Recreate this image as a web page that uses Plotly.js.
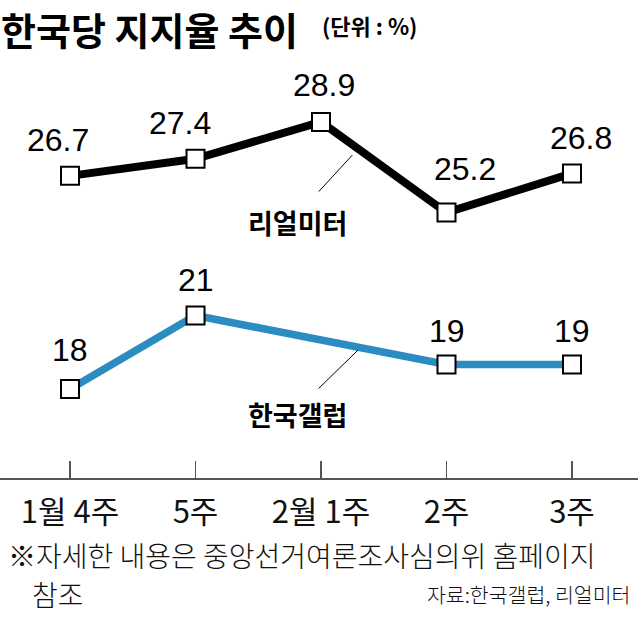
<!DOCTYPE html>
<html>
<head>
<meta charset="utf-8">
<script src="https://cdn.plot.ly/plotly-3.0.1.min.js"></script>
<style>
  html, body { margin:0; padding:0; background:#fff; }
  #plot { width:638px; height:617px; }
</style>
</head>
<body>
<div id="plot"></div>
<script>
// 주차별 지지율 (단위 %)
const weeks = ['1월 4주', '5주', '2월 1주', '2주', '3주'];
const realmeter = [26.7, 27.4, 28.9, 25.2, 26.8];
const gallup = [18, 21, null, 19, 19];

(function(){
  if (typeof Plotly === 'undefined') {
    document.getElementById('plot').innerHTML = '<p style="padding:16px;color:#c00">Plotly 로드 실패</p>';
    return;
  }

  const KR = '"Noto Sans CJK KR", "Noto Sans", sans-serif';
  const NUM = '"Liberation Sans Narrow", "Arial Narrow", "Liberation Sans", Arial, sans-serif';
  const BLUE = '#2b8cc0';
  const idx = weeks.map((_, i) => i);

  // plot area: top 60px, bottom 478px
  const top = 60, bottom = 478, H = bottom - top;
  const py = p => (bottom - p) / H;

  const marker = { symbol:'square', size:18, color:'#fff', line:{ color:'#000', width:2 } };

  const data = [
    { x:idx, y:realmeter, mode:'lines+markers', type:'scatter',
      line:{ color:'#000', width:8 }, marker:marker, hoverinfo:'skip' },
    { x:idx, y:gallup, mode:'lines+markers', type:'scatter', connectgaps:true,
      line:{ color:BLUE, width:7.5 }, marker:marker, hoverinfo:'skip' }
  ];

  // 값 라벨 위치 보정(px)
  const rmShift = [-12, -16, 3, 18, 9];
  const rmLift = [36, 36, 37, 44, 35];
  const glShift = [0, 0, 0, 0, 0];
  const glLift = [39, 36, 36, 34, 34];

  const ann = [];
  realmeter.forEach((v, i) => {
    ann.push({ x:i, y:v, text:String(v), showarrow:false, xshift:rmShift[i], yshift:rmLift[i],
      font:{ family:NUM, size:32, color:'#000' } });
  });
  gallup.forEach((v, i) => {
    if (v === null) return;
    ann.push({ x:i, y:v, text:String(v), showarrow:false, xshift:glShift[i], yshift:glLift[i],
      font:{ family:NUM, size:32, color:'#000' } });
  });

  // 시리즈 이름 + 지시선
  ann.push({ x:1.81, y:24.78, text:'리얼미터', showarrow:false,
    font:{ family:KR, size:27, color:'#000', weight:700 } });
  ann.push({ x:2.25, y:27.55, text:'', showarrow:true, arrowhead:0, arrowwidth:1, arrowcolor:'#000',
    ax:-35, ay:38 });
  ann.push({ x:1.81, y:16.94, text:'한국갤럽', showarrow:false,
    font:{ family:KR, size:27, color:'#000', weight:700 } });
  ann.push({ x:2.295, y:19.59, text:'', showarrow:true, arrowhead:0, arrowwidth:1, arrowcolor:'#000',
    ax:-41, ay:40 });

  // 제목, 주석
  ann.push({ xref:'paper', yref:'paper', x:0, y:py(0), xanchor:'left', yanchor:'top', borderpad:0,
    text:'한국당 지지율 추이', showarrow:false, font:{ family:KR, size:38, color:'#000', weight:700 } });
  ann.push({ xref:'paper', yref:'paper', x:320/638, y:py(25), xanchor:'left', yanchor:'middle',
    text:'(단위 : %)', showarrow:false, font:{ family:KR, size:22, color:'#000', weight:700 } });
  ann.push({ xref:'paper', yref:'paper', x:6/638, y:py(555), xanchor:'left', yanchor:'middle',
    text:'※자세한 내용은 중앙선거여론조사심의위 홈페이지', showarrow:false,
    font:{ family:KR, size:28, color:'#111', weight:300 } });
  ann.push({ xref:'paper', yref:'paper', x:30/638, y:py(594), xanchor:'left', yanchor:'middle',
    text:'참조', showarrow:false, font:{ family:KR, size:28, color:'#111', weight:300 } });
  ann.push({ xref:'paper', yref:'paper', x:632/638, y:py(594), xanchor:'right', yanchor:'middle',
    text:'자료:한국갤럽, 리얼미터', showarrow:false, font:{ family:KR, size:20.5, color:'#111', weight:300 } });

  const layout = {
    width:638, height:617,
    margin:{ l:0, r:0, t:top, b:617 - bottom },
    paper_bgcolor:'#fff', plot_bgcolor:'#fff',
    showlegend:false,
    xaxis:{
      range:[-0.558, 4.526], tickvals:idx, ticktext:weeks,
      showgrid:false, zeroline:false, showline:true, linecolor:'#555', linewidth:1.5,
      ticks:'inside', ticklen:17, tickwidth:1.5, tickcolor:'#555', ticklabelstandoff:6,
      tickfont:{ family:KR, size:31, color:'#111', weight:400 }, fixedrange:true
    },
    yaxis:{ range:[14.367, 31.43], visible:false, fixedrange:true },
    annotations:ann
  };

  Plotly.newPlot('plot', data, layout, { displayModeBar:false, staticPlot:true });
})();
</script>
</body>
</html>
